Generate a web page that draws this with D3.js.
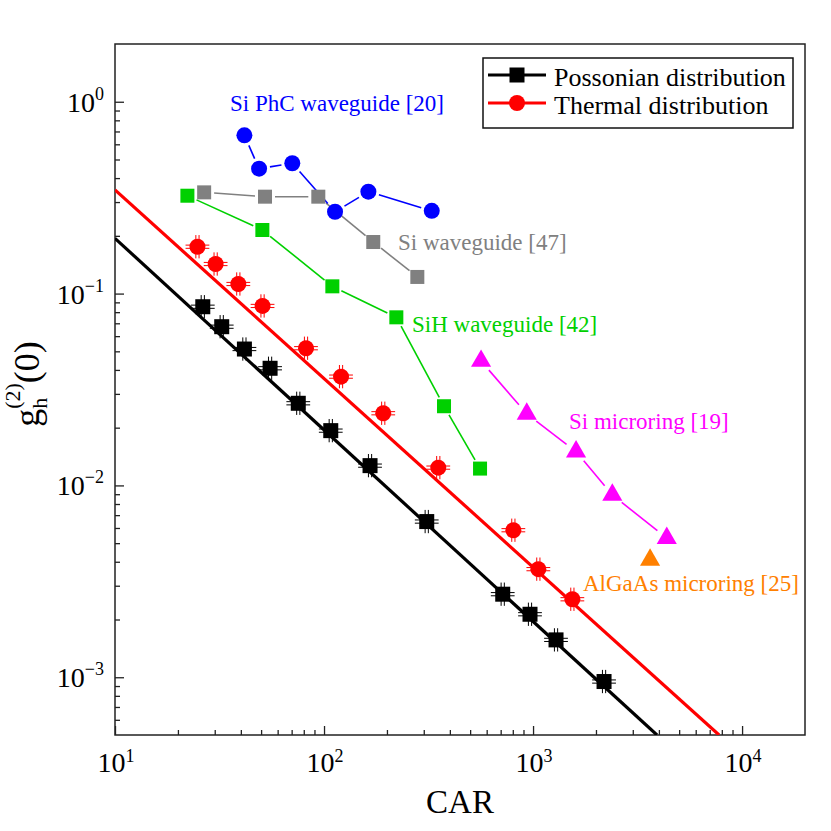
<!DOCTYPE html>
<html>
<head>
<meta charset="utf-8">
<style>
  body { margin: 0; background: #fff; }
  svg text { font-family: "Liberation Serif", "Times New Roman", serif; }
</style>
</head>
<body>
<svg id="chart" width="831" height="831" font-family="Liberation Serif, Times New Roman, serif"></svg>
<script src="https://d3js.org/d3.v7.min.js"></script>
<script>

// ---- data ----
var poissonCAR = [26.3, 32.4, 41.6, 55.2, 75.3, 107.7, 166, 310, 716, 967, 1288, 2186];
var poissonG   = [0.0854, 0.0672, 0.0514, 0.0408, 0.0268, 0.0193, 0.01268, 0.00648, 0.00271, 0.00213, 0.001566, 0.00095];

var thermalCAR = [24.8, 30.3, 38.9, 50.8, 82.0, 120.6, 192, 352, 805, 1060, 1542];
var thermalG   = [0.1755, 0.1426, 0.1122, 0.0862, 0.0519, 0.0369, 0.02378, 0.01238, 0.00584, 0.00366, 0.00255];

// theory lines (end points)
var poissonFitCAR = [10, 3917];
var poissonFitG   = [0.194, 0.0005];
var thermalFitCAR = [10, 7762];
var thermalFitG   = [0.347, 0.0005];

// relative error of the measured points
var relErrCAR = 0.14;
var relErrG = 0.15;

var phcCAR = [41.6, 48.9, 70.5, 112.9, 163, 327.6];
var phcG   = [0.668, 0.448, 0.478, 0.267, 0.340, 0.270];

var siwgCAR = [26.7, 52.2, 93.9, 172, 279.5];
var siwgG   = [0.337, 0.320, 0.320, 0.1857, 0.1221];

var sihCAR = [22.2, 50.7, 109.6, 221.8, 375, 557.7];
var sihG   = [0.3237, 0.2145, 0.1091, 0.0752, 0.02587, 0.01224];

var ringCAR = [564, 933, 1606, 2395, 4362];
var ringG   = [0.0445, 0.0236, 0.0150, 0.00892, 0.00531];

var algaasCAR = [3630];
var algaasG   = [0.00409];

var xTickExp = [1, 2, 3, 4];
var yTickExp = [0, -1, -2, -3];

var legendNames = ["Possonian distribution", "Thermal distribution"];

// ---- layout ----
var FONT = "Liberation Serif, Times New Roman, serif";
var svg = d3.select("#chart"),
    margin = {top: 44, right: 26, bottom: 96, left: 115},
    width = +svg.attr("width") - margin.left - margin.right,
    height = +svg.attr("height") - margin.top - margin.bottom,
    g = svg.append("g").attr("transform", "translate(" + margin.left + "," + margin.top + ")");

var x = d3.scaleLog().domain([10, 2e4]).range([0, width]);
var y = d3.scaleLog().domain([5e-4, 2]).range([height, 0]);

function zip(a, b) { return a.map(function(v, i) { return {x: v, y: b[i]}; }); }

// minor ticks 2..9 of every decade inside the domain
function minorTicks(dom) {
  var out = [];
  for (var e = -5; e <= 5; e++) {
    for (var k = 2; k <= 9; k++) {
      var v = k * Math.pow(10, e);
      if (v > dom[0] * 1.0001 && v < dom[1] * 0.9999) out.push(v);
    }
  }
  return out;
}

svg.append("defs").append("clipPath").attr("id", "plotClip")
  .append("rect").attr("width", width).attr("height", height);

// ---- axes ----
var xMajor = xTickExp.map(function(e) { return Math.pow(10, e); });
var yMajor = yTickExp.map(function(e) { return Math.pow(10, e); });

g.append("g").attr("transform", "translate(0," + height + ")")
  .call(d3.axisBottom(x).tickValues(xMajor).tickSize(-9).tickSizeOuter(0).tickFormat(""));
g.append("g").attr("transform", "translate(0," + height + ")")
  .call(d3.axisBottom(x).tickValues(minorTicks(x.domain())).tickSize(-5).tickSizeOuter(0).tickFormat(""));
g.append("g")
  .call(d3.axisLeft(y).tickValues(yMajor).tickSize(-9).tickSizeOuter(0).tickFormat(""));
g.append("g")
  .call(d3.axisLeft(y).tickValues(minorTicks(y.domain())).tickSize(-5).tickSizeOuter(0).tickFormat(""));

g.selectAll(".tick line").attr("stroke", "#222").attr("stroke-width", 1.3);
g.selectAll(".domain").attr("stroke", "none");

g.append("rect")
  .attr("width", width).attr("height", height)
  .attr("fill", "none").attr("stroke", "#222").attr("stroke-width", 1.5);

// tick labels 10^n
xTickExp.forEach(function(e) {
  var t = g.append("text")
    .attr("x", x(Math.pow(10, e)) + 1).attr("y", height + 37)
    .attr("text-anchor", "middle").attr("font-family", FONT).attr("font-size", 28).attr("fill", "#000");
  t.append("tspan").text("10");
  t.append("tspan").attr("font-size", 18).attr("dy", -10).text(String(e));
});
yTickExp.forEach(function(e) {
  var t = g.append("text")
    .attr("x", -11).attr("y", y(Math.pow(10, e)) + 10)
    .attr("text-anchor", "end").attr("font-family", FONT).attr("font-size", 28).attr("fill", "#000");
  t.append("tspan").text("10");
  t.append("tspan").attr("font-size", 18).attr("dy", -12)
    .text(e < 0 ? "\u2212" + Math.abs(e) : String(e));
});

// axis titles
g.append("text")
  .attr("x", width / 2).attr("y", height + 78)
  .attr("text-anchor", "middle").attr("font-family", FONT).attr("font-size", 33).text("CAR");

var yl = svg.append("text")
  .attr("transform", "translate(39,384) rotate(-90)")
  .attr("text-anchor", "middle").attr("font-family", FONT).attr("font-size", 36);
yl.append("tspan").text("g");
yl.append("tspan").attr("font-size", 22).attr("dy", 8).text("h");
yl.append("tspan").attr("font-size", 22).attr("dx", -11).attr("dy", -27).text("(2)");
yl.append("tspan").attr("dy", 19).text("(0)");

// ---- plot ----
var plot = g.append("g").attr("clip-path", "url(#plotClip)");

var line = d3.line()
  .x(function(d) { return x(d.x); })
  .y(function(d) { return y(d.y); });

plot.append("path").datum(zip(poissonFitCAR, poissonFitG))
  .attr("fill", "none").attr("stroke", "#000").attr("stroke-width", 3.2).attr("d", line);
plot.append("path").datum(zip(thermalFitCAR, thermalFitG))
  .attr("fill", "none").attr("stroke", "#ff0000").attr("stroke-width", 3.2).attr("d", line);

// line joining points, with a gap round each marker
function gappedLine(data, color, gap) {
  for (var i = 0; i < data.length - 1; i++) {
    var x0 = x(data[i].x), y0 = y(data[i].y),
        x1 = x(data[i + 1].x), y1 = y(data[i + 1].y),
        dx = x1 - x0, dy = y1 - y0, len = Math.sqrt(dx * dx + dy * dy);
    if (len <= 2 * gap) continue;
    var ux = dx / len, uy = dy / len;
    plot.append("line")
      .attr("x1", x0 + ux * gap).attr("y1", y0 + uy * gap)
      .attr("x2", x1 - ux * gap).attr("y2", y1 - uy * gap)
      .attr("stroke", color).attr("stroke-width", 1.6);
  }
}

function squares(data, color, size) {
  plot.selectAll(null).data(data).enter().append("rect")
    .attr("x", function(d) { return x(d.x) - size / 2; })
    .attr("y", function(d) { return y(d.y) - size / 2; })
    .attr("width", size).attr("height", size)
    .attr("fill", color);
}
function circles(data, color, r) {
  plot.selectAll(null).data(data).enter().append("circle")
    .attr("cx", function(d) { return x(d.x); })
    .attr("cy", function(d) { return y(d.y); })
    .attr("r", r).attr("fill", color);
}
function triangles(data, color, area) {
  plot.selectAll(null).data(data).enter().append("path")
    .attr("transform", function(d) { return "translate(" + x(d.x) + "," + y(d.y) + ")"; })
    .attr("d", d3.symbol(d3.symbolTriangle, area)())
    .attr("fill", color);
}
// double-line error bars ("#" look)
function errorBars(data, color) {
  data.forEach(function(d) {
    var cx = x(d.x), cy = y(d.y),
        xl = x(d.x / (1 + relErrCAR)), xr = x(d.x * (1 + relErrCAR)),
        yt = y(d.y * (1 + relErrG)), yb = y(d.y / (1 + relErrG));
    [-1.6, 1.6].forEach(function(o) {
      plot.append("line").attr("x1", cx + o).attr("x2", cx + o).attr("y1", yt).attr("y2", yb)
        .attr("stroke", color).attr("stroke-width", 1);
      plot.append("line").attr("y1", cy + o).attr("y2", cy + o).attr("x1", xl).attr("x2", xr)
        .attr("stroke", color).attr("stroke-width", 1);
    });
  });
}

var poisson = zip(poissonCAR, poissonG),
    thermal = zip(thermalCAR, thermalG),
    phc = zip(phcCAR, phcG),
    siwg = zip(siwgCAR, siwgG),
    sih = zip(sihCAR, sihG),
    ring = zip(ringCAR, ringG),
    algaas = zip(algaasCAR, algaasG);

gappedLine(siwg, "#808080", 10);
gappedLine(phc, "#0000ff", 11);
gappedLine(sih, "#00d000", 10);
gappedLine(ring, "#ff00ff", 12);

squares(siwg, "#808080", 14);
circles(phc, "#0000ff", 8);
squares(sih, "#00d000", 14);
triangles(ring, "#ff00ff", 175);
triangles(algaas, "#ff8000", 175);

errorBars(thermal, "#ff0000");
circles(thermal, "#ff0000", 8);
errorBars(poisson, "#000");
squares(poisson, "#000", 15);

// series labels
var labels = [
  {text: "Si PhC waveguide [20]", color: "#0000ff", px: 230, py: 111},
  {text: "Si waveguide [47]", color: "#808080", px: 398, py: 250},
  {text: "SiH waveguide [42]", color: "#00d000", px: 412, py: 332},
  {text: "Si microring [19]", color: "#ff00ff", px: 569, py: 429},
  {text: "AlGaAs microring [25]", color: "#ff8000", px: 583, py: 591}
];
svg.selectAll(null).data(labels).enter().append("text")
  .attr("x", function(d) { return d.px; }).attr("y", function(d) { return d.py; })
  .attr("font-family", FONT).attr("font-size", 23).attr("fill", function(d) { return d.color; })
  .text(function(d) { return d.text; });

// ---- legend ----
var leg = svg.append("g").attr("transform", "translate(483,58)");
leg.append("rect").attr("width", 310).attr("height", 70)
  .attr("fill", "#fff").attr("stroke", "#111").attr("stroke-width", 1.5);
var legColors = ["#000", "#ff0000"];
legendNames.forEach(function(name, i) {
  var cy = 17 + i * 28;
  leg.append("line").attr("x1", 5).attr("x2", 63).attr("y1", cy).attr("y2", cy)
    .attr("stroke", legColors[i]).attr("stroke-width", 3);
  if (i === 0) {
    leg.append("rect").attr("x", 34 - 7.5).attr("y", cy - 7.5).attr("width", 15).attr("height", 15).attr("fill", "#000");
  } else {
    leg.append("circle").attr("cx", 34).attr("cy", cy).attr("r", 8).attr("fill", "#ff0000");
  }
  leg.append("text").attr("x", 71).attr("y", cy + 10.5)
    .attr("font-family", FONT).attr("font-size", 26).attr("fill", "#000").text(name);
});

</script>
</body>
</html>
